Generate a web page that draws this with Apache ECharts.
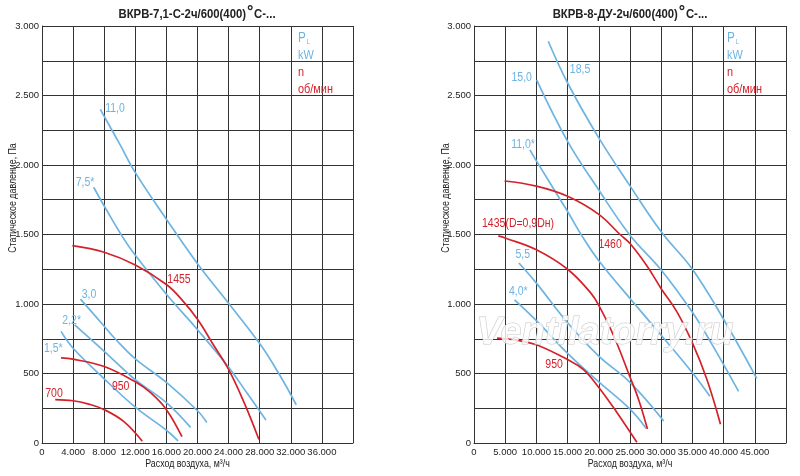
<!DOCTYPE html>
<html><head><meta charset="utf-8">
<script src="https://cdn.jsdelivr.net/npm/echarts/dist/echarts.min.js"></script>
<style>html,body{margin:0;padding:0;background:#fff}#c{width:800px;height:476px}</style>
</head><body><div id="c"></div>
<script>
// ---------- Left chart: ВКРВ-7,1-С-2ч/600(400)°С-... ----------
const leftTitle = 'ВКРВ-7,1-С-2ч/600(400)';
const L_P11_0 = [[7500,2400],[8000,2350],[10000,2150],[12000,1945],[16000,1610],[20000,1290],[24000,1005],[28000,715],[30400,505],[32700,275]];
const L_P7_5  = [[6650,1840],[8000,1705],[10500,1470],[12000,1350],[16000,1070],[20000,815],[24000,545],[26300,365],[28800,165]];
const L_P3_0  = [[4950,1035],[8000,840],[9400,750],[12000,605],[16000,436],[20000,232],[21200,147]];
const L_P2_2  = [[4200,850],[8000,660],[12000,455],[16000,290],[19100,112]];
const L_P1_5  = [[2450,803],[4000,682],[8000,462],[12000,258],[16000,92],[17500,15]];
const L_N1455 = [[3900,1420],[8000,1372],[12000,1280],[16000,1140],[18000,1030],[20000,890],[22000,710],[24000,530],[26000,290],[27900,25]];
const L_N950  = [[2450,612],[4000,603],[8000,550],[12000,440],[14000,360],[16000,240],[18000,45]];
const L_N700  = [[1700,312],[4000,304],[6000,280],[8000,240],[10500,155],[12900,12]];
const L_powerLabels = [[9390,2404,'11,0'],[5530,1871,'7,5*'],[6050,1071,'3,0'],[3820,880,'2,2*'],[1450,680,'1,5*']];
const L_speedLabels = [[17620,1179,'1455'],[10120,405,'950'],[1540,359,'700']];

// ---------- Right chart: ВКРВ-8-ДУ-2ч/600(400)°С-... ----------
const rightTitle = 'ВКРВ-8-ДУ-2ч/600(400)';
const R_P18_5 = [[11900,2890],[15000,2590],[20000,2195],[25000,1850],[30000,1520],[35000,1250],[40000,890],[45300,465]];
const R_P15_0 = [[10050,2610],[15000,2170],[20000,1820],[25000,1495],[30000,1245],[35000,940],[38000,720],[42400,372]];
const R_P11_0 = [[8960,2109],[10000,2030],[15000,1665],[17300,1490],[20000,1311],[25000,1040],[30000,775],[35000,505],[37800,336]];
const R_P5_5  = [[7200,1295],[10000,1150],[15000,865],[20000,625],[25000,436],[30400,158]];
const R_P4_0  = [[6500,1030],[10000,880],[15000,645],[20000,440],[25000,244],[27600,105]];
const R_N1460 = [[4900,1885],[10000,1848],[15000,1775],[20000,1645],[23400,1500],[25000,1435],[27700,1275],[30000,1110],[32500,945],[35000,720],[37300,460],[39500,135]];
const R_N1435 = [[3900,1490],[5000,1475],[10000,1390],[15000,1250],[18700,1080],[20000,990],[22400,770],[25000,475],[26400,310],[27800,100]];
const R_N950  = [[3700,755],[7000,738],[10000,707],[15000,600],[17500,530],[20000,400],[22900,220],[26100,5]];
const R_powerLabels = [[17000,2684,'18,5'],[7650,2632,'15,0'],[7860,2145,'11,0*'],[7810,1359,'5,5'],[7110,1088,'4,0*']];
const R_speedLabels = [[21810,1426,'1460'],[7060,1581,'1435(D=0,9Dн)'],[12830,563,'950']];

// ---------- Axes ----------
const L_xMax = 40000, L_xStep = 4000;
const R_xMax = 50000, R_xStep = 5000;
const yMax = 3000, yStep = 250, yLabelStep = 500;
const xName = 'Расход воздуха, м³/ч';
const yName = 'Статическое давление, Па';

const BLUE = '#6db4e2', RED = '#d4222b', GRID = '#333';
const FONT = "'Liberation Sans',Arial,sans-serif";
const NARROW = 0.84;

function fmt(v){ return v < 1000 ? String(v) : (v/1000).toFixed(3); }

function xAxis(idx, max, step){
  return {type:'value', gridIndex:idx, min:0, max:max, interval:step,
    axisLine:{show:true, onZero:false, lineStyle:{color:GRID, width:1}},
    axisTick:{show:false},
    splitLine:{show:true, lineStyle:{color:GRID, width:1}},
    axisLabel:{color:'#222', fontSize:9.5, fontFamily:FONT, margin:4,
      formatter: v => v >= max ? '' : fmt(v)}
  };
}
function yAxis(idx){
  return {type:'value', gridIndex:idx, min:0, max:yMax, interval:yStep,
    axisLine:{show:true, lineStyle:{color:GRID, width:1}},
    axisTick:{show:false},
    splitLine:{show:true, lineStyle:{color:GRID, width:1}},
    axisLabel:{color:'#222', fontSize:9.5, fontFamily:FONT, margin:3,
      formatter: v => (v % yLabelStep === 0) ? fmt(v) : ''}
  };
}
function curve(data, color, i){
  return {type:'line', xAxisIndex:i, yAxisIndex:i, data:data, smooth:0.4,
    symbol:'none', silent:true, lineStyle:{color:color, width:1.7}, z:3};
}
function txt(x, y, text, size, color, extra){
  return Object.assign({type:'text', x:x, y:y, scaleX:NARROW, z:50,
    style:{text:text, fontSize:size, fill:color, fontFamily:FONT, align:'center', verticalAlign:'middle'}}, extra || {});
}
function legend(left){
  const l = (x, y, t, s, c, rich) => ({type:'text', x:x, y:y, scaleX:NARROW, z:50,
    style:Object.assign({text:t, fontSize:s, fill:c, fontFamily:FONT, align:'left', verticalAlign:'middle'}, rich||{})});
  return [
    l(left, 38, '{p|P}{s|L}', 14, BLUE, {rich:{p:{fontSize:14, fill:BLUE, fontFamily:FONT}, s:{fontSize:7, fill:BLUE, fontFamily:FONT, padding:[9,0,0,1]}}}),
    l(left, 55, 'kW', 13, BLUE),
    l(left, 72, 'n', 13, RED),
    l(left, 89, 'об/мин', 13, RED)
  ];
}
function title(text, cx){
  return {type:'text', x:cx, y:14, scaleX:NARROW, style:{
    text:'{a|'+text+'}{d|°}{a|С-...}', align:'center', verticalAlign:'middle',
    rich:{a:{fontSize:13.5, fontWeight:'bold', fill:'#222', fontFamily:FONT},
          d:{fontSize:19, fontWeight:'bold', fill:'#222', fontFamily:FONT, padding:[0,1,5,1]}}}};
}

const chart = echarts.init(document.getElementById('c'));
chart.setOption({
  animation:false,
  backgroundColor:'#fff',
  grid:[{left:42, top:26, width:311, height:417},{left:474, top:26, width:312, height:417}],
  xAxis:[xAxis(0, L_xMax, L_xStep), xAxis(1, R_xMax, R_xStep)],
  yAxis:[yAxis(0), yAxis(1)],
  series:[
    curve(L_P11_0, BLUE, 0), curve(L_P7_5, BLUE, 0), curve(L_P3_0, BLUE, 0), curve(L_P2_2, BLUE, 0), curve(L_P1_5, BLUE, 0),
    curve(L_N1455, RED, 0), curve(L_N950, RED, 0), curve(L_N700, RED, 0),
    curve(R_P18_5, BLUE, 1), curve(R_P15_0, BLUE, 1), curve(R_P11_0, BLUE, 1), curve(R_P5_5, BLUE, 1), curve(R_P4_0, BLUE, 1),
    curve(R_N1460, RED, 1), curve(R_N1435, RED, 1), curve(R_N950, RED, 1)
  ]
});

// curve labels placed through the axes' own scales
const g = [];
function addLabels(arr, color, gi){
  arr.forEach(d => {
    const p = chart.convertToPixel({gridIndex:gi}, [d[0], d[1]]);
    g.push(txt(p[0], p[1], d[2], 12.5, color));
  });
}
addLabels(L_powerLabels, BLUE, 0); addLabels(L_speedLabels, RED, 0);
addLabels(R_powerLabels, BLUE, 1); addLabels(R_speedLabels, RED, 1);

// axis names
[[0, L_xMax], [1, R_xMax]].forEach(([gi, max]) => {
  const a = chart.convertToPixel({gridIndex:gi}, [0, 0]);
  const b = chart.convertToPixel({gridIndex:gi}, [max, yMax]);
  const cx = (a[0] + b[0]) / 2 - (gi === 0 ? 10 : 0);
  g.push(txt(cx, a[1] + 21, xName, 10.5, '#222'));
  g.push(txt(a[0] - (gi === 0 ? 29 : 28), 198, yName, 10.5, '#222', {rotation:Math.PI/2}));
});

chart.setOption({graphic:[
  title(leftTitle, 197), title(rightTitle, 630),
  ...legend(298), ...legend(727),
  ...g,
  {type:'text', left:476, top:314, z:100, style:{text:'Ventilatorry.ru', fontSize:38, fontStyle:'italic', fontWeight:'bold',
    fontFamily:FONT, fill:'rgba(255,255,255,0.8)', stroke:'#c8c8c8', lineWidth:1}}
]});
</script></body></html>
